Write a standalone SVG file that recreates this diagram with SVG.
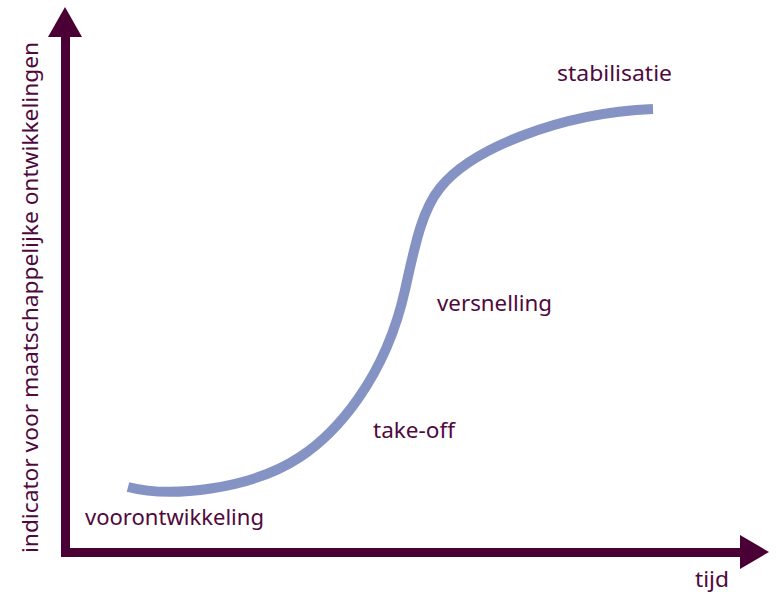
<svg xmlns="http://www.w3.org/2000/svg" width="778" height="594" viewBox="0 0 778 594">
  <style>
    .axis { fill: none; stroke: #4B0035; stroke-width: 9; stroke-linejoin: miter; }
    .head { fill: #4B0035; }
    .curve { fill: none; stroke: #8593C4; stroke-width: 10; stroke-linecap: butt; }
    .lbl { font-family: "Noto Sans", "Open Sans", sans-serif; font-size: 21px; fill: #50093D; }
  </style>
  <rect width="778" height="594" fill="#FFFFFF"/>
  <g id="axes">
    <path class="axis" d="M65.5,34 L65.5,552.5 L742,552.5"/>
    <polygon class="head" points="65,7 48,37 82,37"/>
    <polygon class="head" points="769,552 740,535 740,569"/>
  </g>
  <g id="s-curve">
    <path class="curve" d="M128,487 C170,498 250,490 300,457 C335,434 385,380 405,290 C415,245 422,210 440,188 C470,150 558,113 653,109"/>
  </g>
  <g id="labels">
    <text class="lbl" x="85" y="525" textLength="179" lengthAdjust="spacingAndGlyphs">voorontwikkeling</text>
    <text class="lbl" x="373" y="438" textLength="82" lengthAdjust="spacingAndGlyphs">take-off</text>
    <text class="lbl" x="437" y="311" textLength="115" lengthAdjust="spacingAndGlyphs">versnelling</text>
    <text class="lbl" x="557" y="81" textLength="115" lengthAdjust="spacingAndGlyphs">stabilisatie</text>
    <text class="lbl" x="695" y="587" textLength="34" lengthAdjust="spacingAndGlyphs">tijd</text>
    <text class="lbl" transform="translate(38,553) rotate(-90)" x="0" y="0" font-size="20" textLength="511" lengthAdjust="spacingAndGlyphs">indicator voor maatschappelijke ontwikkelingen</text>
  </g>
</svg>
